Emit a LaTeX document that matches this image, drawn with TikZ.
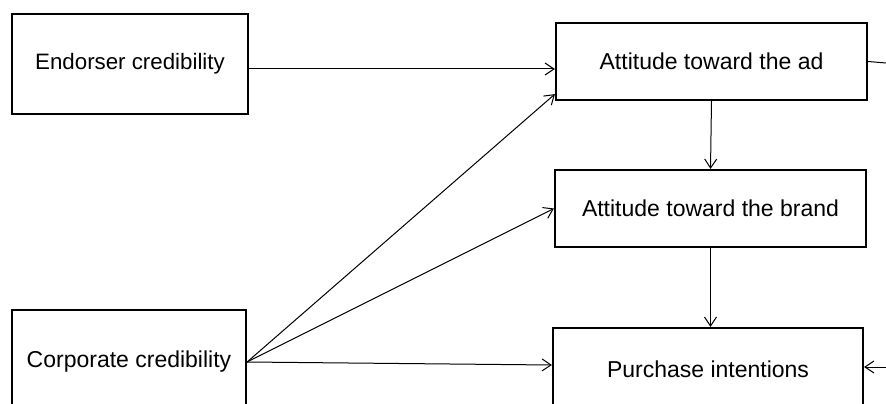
\documentclass[tikz,border=0pt]{standalone}
\usepackage{fontspec}
\setmainfont{Liberation Sans}
\usetikzlibrary{arrows.meta}
\begin{document}
\begin{tikzpicture}[x=1pt,y=-1pt,
  box/.style={draw,line width=2.2pt,inner sep=0pt,font=\fontsize{23}{27}\selectfont},
  link/.style={line width=1pt},
  arr/.style={link,-{Straight Barb[length=9pt,width=12pt]}}]
\useasboundingbox (0,0) rectangle (886,404);
\begin{scope}
\clip (0,0) rectangle (886,404);
\node[box,font=\fontsize{22.3}{27}\selectfont,minimum width=236pt,minimum height=100pt] (end) at (130,64) {Endorser credibility};
\node[box,minimum width=311pt,minimum height=77pt] (ad) at (711.5,61.5) {Attitude toward the ad};
\node[box,minimum width=311pt,minimum height=77pt] (brand) at (710.5,208.5) {Attitude toward the brand};
\node[box,minimum width=310pt,minimum height=82pt] (purch) at (708,369) {Purchase intentions};
\node[box,minimum width=234pt,minimum height=104pt] (corp) at (129,362) {Corporate credibility};
\coordinate (outA) at (886,63);
\coordinate (outB) at (886,367);

\draw[arr] ([yshift=-5pt]end.east) -- ([yshift=-7.5pt]ad.west);
\draw[arr] (corp.east) -- ([yshift=7pt]ad.south west);
\draw[arr] (corp.east) -- (brand.west);
\draw[arr] (corp.east) -- ([yshift=4pt]purch.west);
\draw[arr] (ad.south) -- (brand.north);
\draw[arr] (brand.south) -- (brand.south |- purch.north);
\draw[link] (ad.east) -- (outA);
\draw[arr] (outB) -- (outB -| purch.east);
\end{scope}
\end{tikzpicture}
\end{document}
